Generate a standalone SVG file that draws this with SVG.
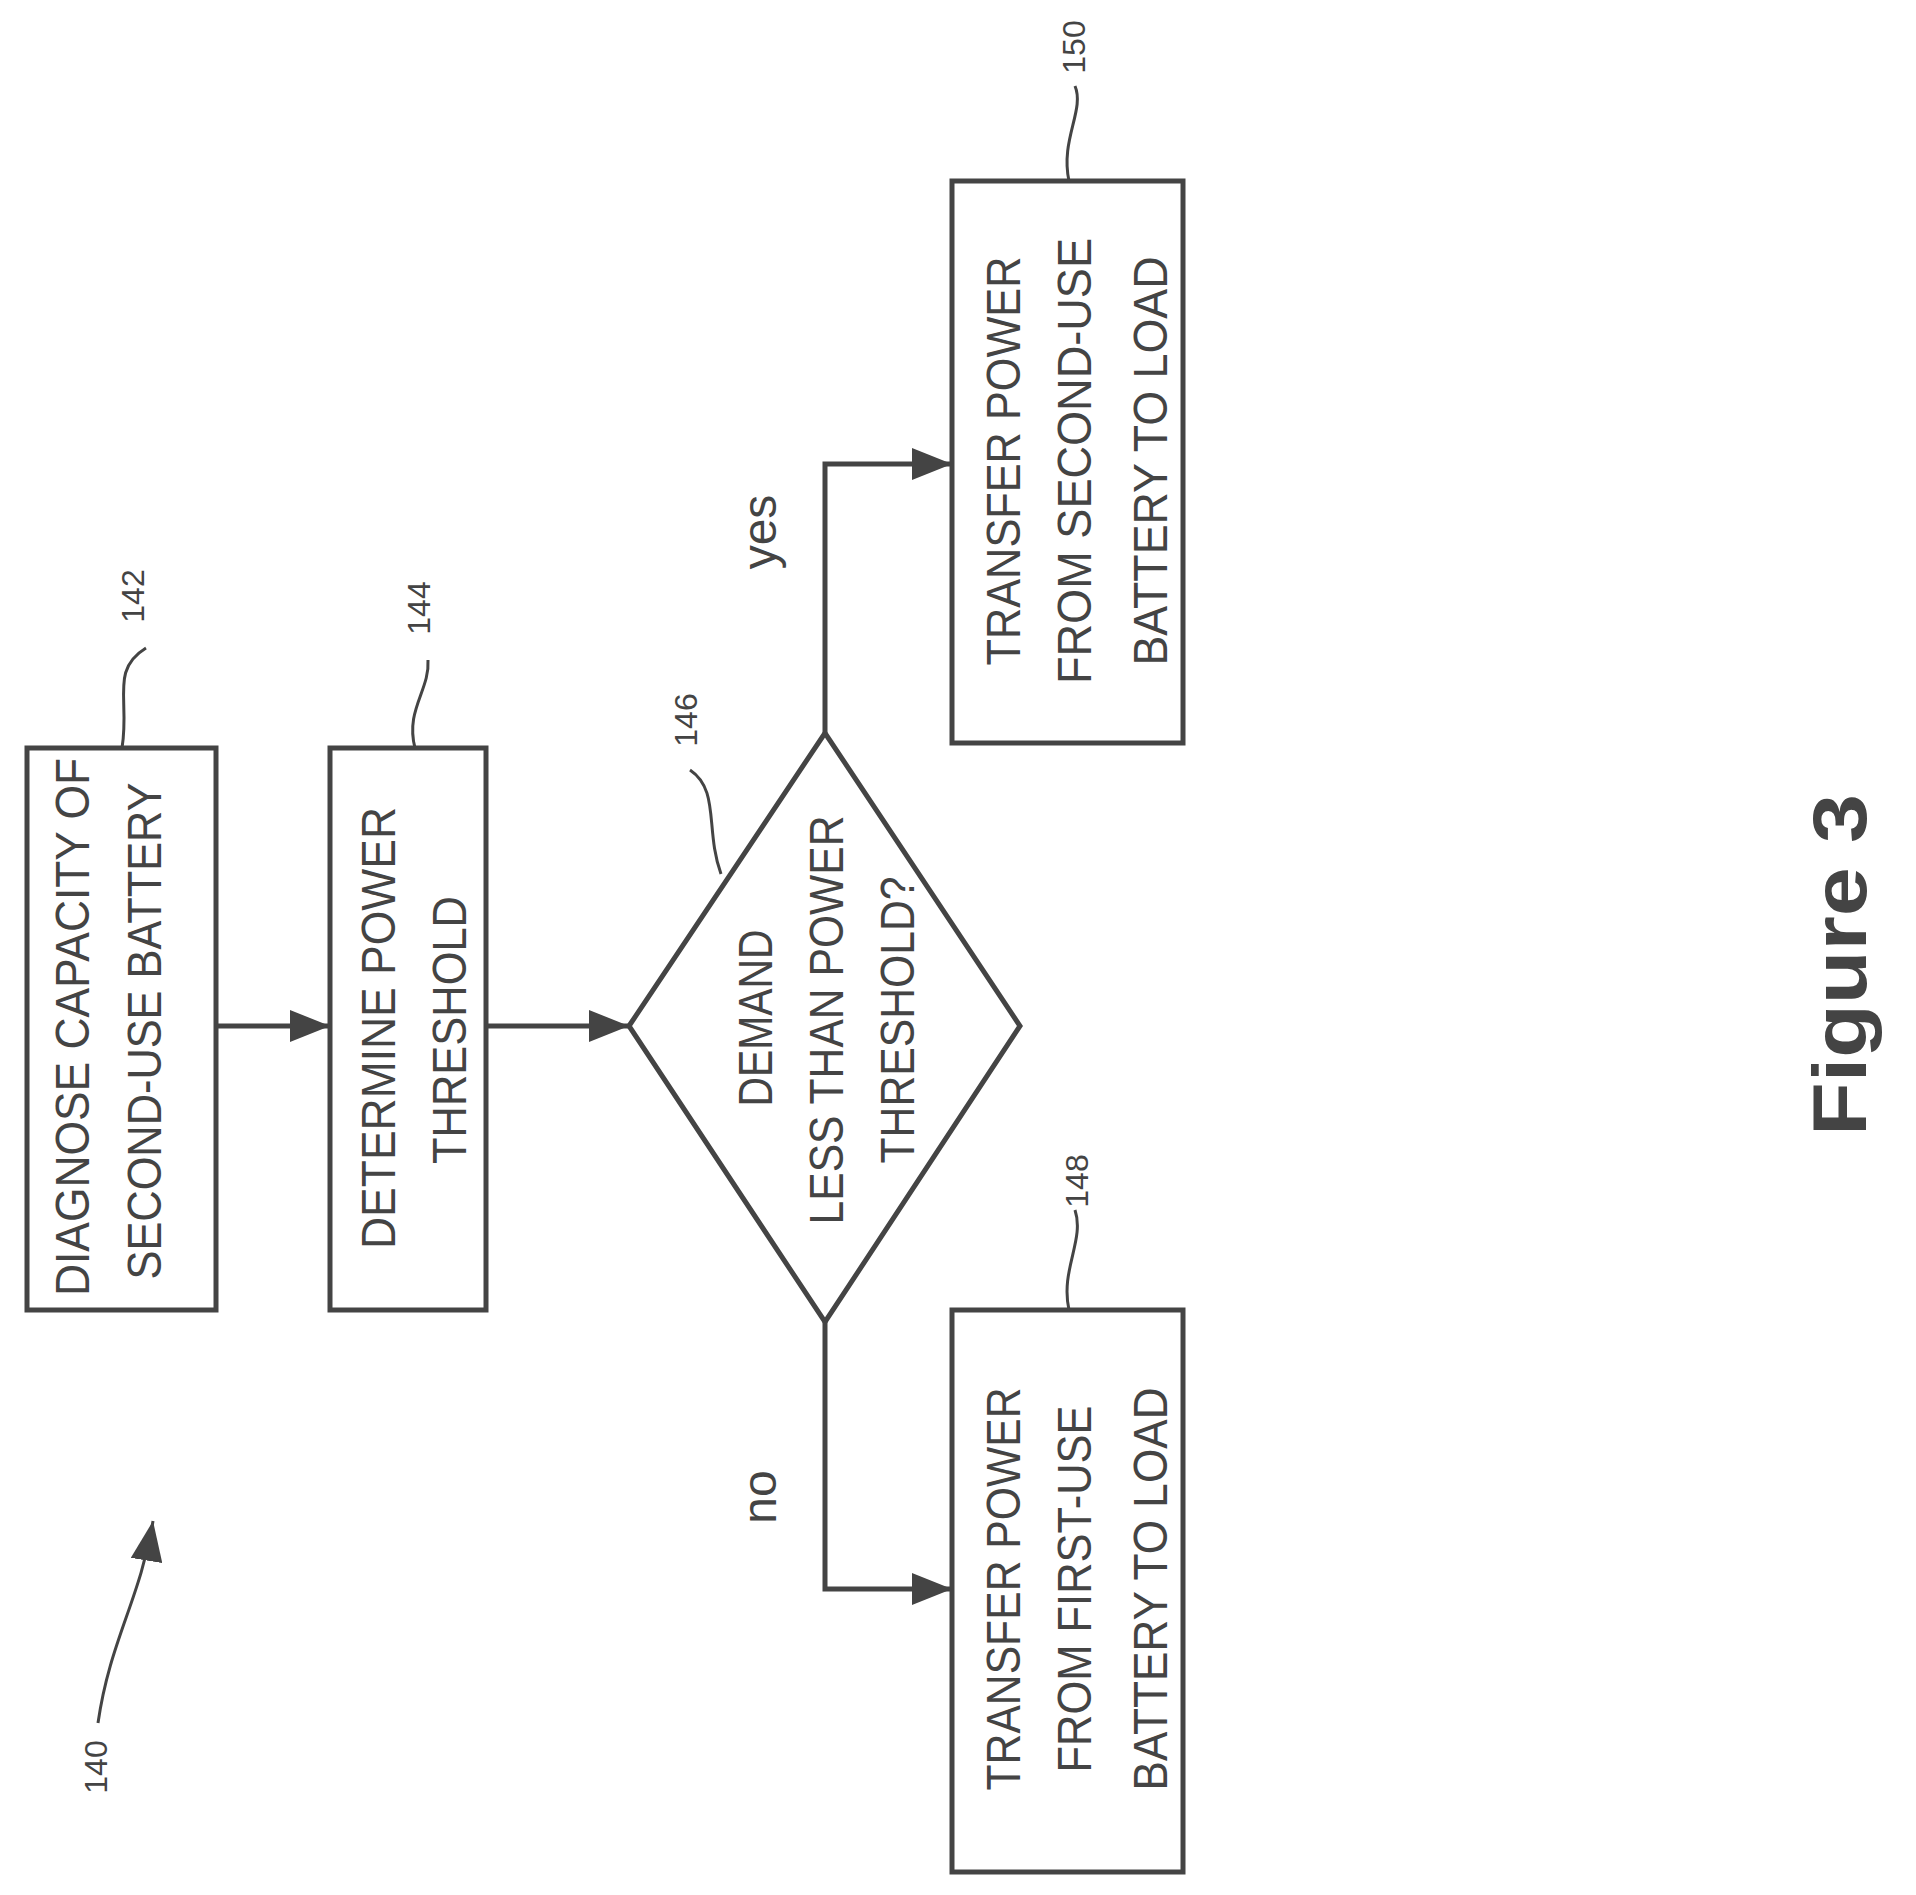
<svg xmlns="http://www.w3.org/2000/svg" width="1916" height="1895" viewBox="0 0 1916 1895">
<style>
.b{fill:#fff;stroke:#444;stroke-width:5}
.t{font-family:"Liberation Sans",Arial,sans-serif;font-size:48px;fill:#444;text-anchor:middle}
.n{font-family:"Liberation Sans",Arial,sans-serif;font-size:32px;fill:#444;text-anchor:middle}
.c{fill:none;stroke:#444;stroke-width:5}
.l{fill:none;stroke:#444;stroke-width:3}
</style>
<defs><marker id="a" markerWidth="10" markerHeight="8" refX="10" refY="4" orient="auto" markerUnits="userSpaceOnUse" viewBox="0 0 10 8"><path d="M0,0 L10,4 L0,8z" fill="#444"/></marker>
<marker id="ar" viewBox="0 0 10 8" refX="10" refY="4" markerWidth="40" markerHeight="32" orient="auto" markerUnits="userSpaceOnUse"><path d="M0,0 L10,4 L0,8z" fill="#444"/></marker></defs>
<g id="n142"><rect class="b" x="27" y="748" width="189" height="562"/>
<text class="t" transform="translate(89,1027) rotate(-90)" textLength="538" lengthAdjust="spacingAndGlyphs">DIAGNOSE CAPACITY OF</text>
<text class="t" transform="translate(161,1031) rotate(-90)" textLength="497" lengthAdjust="spacingAndGlyphs">SECOND-USE BATTERY</text>
<path class="l" d="M122,748 C130,700 110,670 146,648"/><text class="n" transform="translate(144,596) rotate(-90)">142</text></g>
<g id="n144"><rect class="b" x="330" y="748" width="156" height="562"/>
<text class="t" transform="translate(395,1028) rotate(-90)" textLength="442" lengthAdjust="spacingAndGlyphs">DETERMINE POWER</text>
<text class="t" transform="translate(466,1030) rotate(-90)" textLength="268" lengthAdjust="spacingAndGlyphs">THRESHOLD</text>
<path class="l" d="M415,748 C405,710 430,690 428,660"/><text class="n" transform="translate(430,608) rotate(-90)">144</text></g>
<g id="n146"><polygon class="b" points="629,1026 825,733 1020,1026 825,1322"/>
<text class="t" transform="translate(772,1018) rotate(-90)" textLength="177" lengthAdjust="spacingAndGlyphs">DEMAND</text>
<text class="t" transform="translate(843,1020) rotate(-90)" textLength="409" lengthAdjust="spacingAndGlyphs">LESS THAN POWER</text>
<text class="t" transform="translate(914,1020) rotate(-90)" textLength="287" lengthAdjust="spacingAndGlyphs">THRESHOLD?</text>
<path class="l" d="M721,874 C705,830 720,790 690,770"/><text class="n" transform="translate(697,720) rotate(-90)">146</text></g>
<g id="n150"><rect class="b" x="952" y="181" width="231" height="562"/>
<text class="t" transform="translate(1020,461) rotate(-90)" textLength="409" lengthAdjust="spacingAndGlyphs">TRANSFER POWER</text>
<text class="t" transform="translate(1091,461) rotate(-90)" textLength="446" lengthAdjust="spacingAndGlyphs">FROM SECOND-USE</text>
<text class="t" transform="translate(1167,461) rotate(-90)" textLength="409" lengthAdjust="spacingAndGlyphs">BATTERY TO LOAD</text>
<path class="l" d="M1069,181 C1060,140 1085,110 1075,86"/><text class="n" transform="translate(1085,47) rotate(-90)">150</text></g>
<g id="n148"><rect class="b" x="952" y="1310" width="231" height="562"/>
<text class="t" transform="translate(1020,1589) rotate(-90)" textLength="403" lengthAdjust="spacingAndGlyphs">TRANSFER POWER</text>
<text class="t" transform="translate(1091,1589) rotate(-90)" textLength="367" lengthAdjust="spacingAndGlyphs">FROM FIRST-USE</text>
<text class="t" transform="translate(1167,1589) rotate(-90)" textLength="403" lengthAdjust="spacingAndGlyphs">BATTERY TO LOAD</text>
<path class="l" d="M1069,1310 C1060,1270 1085,1240 1075,1210"/><text class="n" transform="translate(1088,1181) rotate(-90)">148</text></g>
<g id="connectors">
<line class="c" x1="216" y1="1026" x2="330" y2="1026" marker-end="url(#ar)"/>
<line class="c" x1="486" y1="1026" x2="629" y2="1026" marker-end="url(#ar)"/>
<polyline class="c" points="825,733 825,464 952,464" marker-end="url(#ar)"/>
<polyline class="c" points="825,1322 825,1589 952,1589" marker-end="url(#ar)"/>
<text class="t" transform="translate(776,532) rotate(-90)" font-size="40">yes</text>
<text class="t" transform="translate(776,1497) rotate(-90)" font-size="40">no</text>
</g>
<g id="n140"><text class="n" transform="translate(107,1767) rotate(-90)">140</text>
<path class="l" d="M98,1723 C110,1640 140,1600 153,1521" marker-end="url(#ar)"/></g>
<text transform="translate(1866,965) rotate(-90)" font-family="Liberation Sans,Arial,sans-serif" font-weight="bold" font-size="76" fill="#444" text-anchor="middle" textLength="342" lengthAdjust="spacingAndGlyphs">Figure 3</text>
</svg>
